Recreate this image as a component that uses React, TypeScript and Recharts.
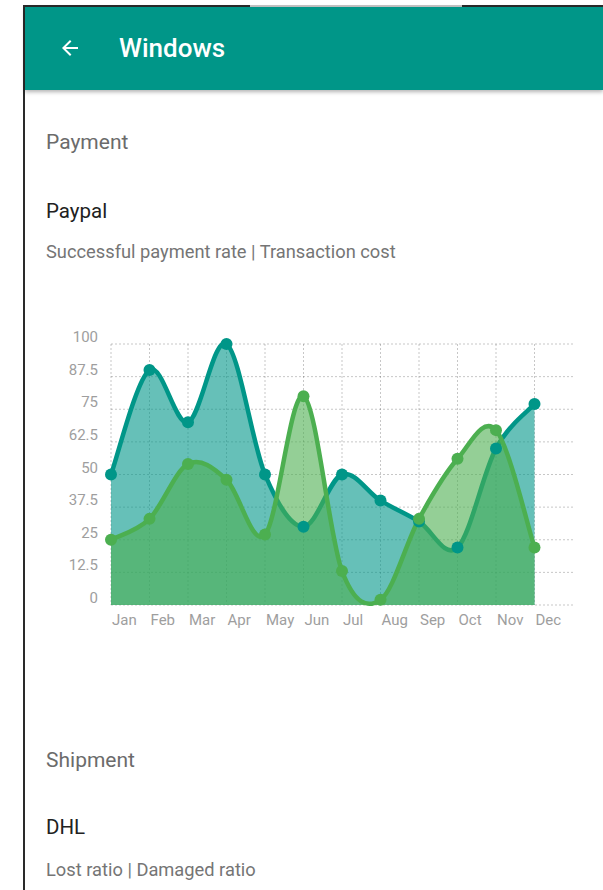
import React from 'react';
import { AreaChart, Area, XAxis, YAxis, CartesianGrid } from 'recharts';

const months = ['Jan', 'Feb', 'Mar', 'Apr', 'May', 'Jun', 'Jul', 'Aug', 'Sep', 'Oct', 'Nov', 'Dec'];
const successRate = [50, 90, 70, 100, 50, 30, 50, 40, 32, 22, 60, 77];
const transactionCost = [25, 33, 54, 48, 27, 80, 13, 2, 33, 56, 67, 22];
const yTicks = [0, 12.5, 25, 37.5, 50, 62.5, 75, 87.5, 100];
const xTicks = months.map((_, i) => i);

const TEAL = '#009688';
const GREEN = '#4caf50';
const FONT = 'Roboto, "Noto Sans", sans-serif';

const data = months.map((m, i) => ({
  x: i,
  month: m,
  success: successRate[i],
  cost: transactionCost[i],
}));

// cardinal spline (catmull-rom, tension 1), like the chartist default smoothing
function cardinal(context: any) {
  let pts: number[][] = [];
  let line = NaN;
  return {
    areaStart() { line = 0; },
    areaEnd() { line = NaN; },
    lineStart() { pts = []; },
    point(x: number, y: number) { pts.push([+x, +y]); },
    lineEnd() {
      if (pts.length) {
        if (line) context.lineTo(pts[0][0], pts[0][1]);
        else context.moveTo(pts[0][0], pts[0][1]);
        for (let i = 0; i < pts.length - 1; i++) {
          const p0 = pts[i - 1] || pts[i];
          const p1 = pts[i];
          const p2 = pts[i + 1];
          const p3 = pts[i + 2] || p2;
          context.bezierCurveTo(
            p1[0] + (p2[0] - p0[0]) / 6,
            p1[1] + (p2[1] - p0[1]) / 6,
            p2[0] - (p3[0] - p1[0]) / 6,
            p2[1] - (p3[1] - p1[1]) / 6,
            p2[0],
            p2[1]
          );
        }
      }
      if (line === 1 || (line !== 0 && pts.length === 1)) context.closePath();
      line = 1 - line;
    },
  };
}

const XTick = (props: any) => {
  const { x, y, payload } = props;
  return (
    <text x={x + 1} y={y + 15} textAnchor="start" dominantBaseline="central" fill="#9e9e9e" fontSize={15} fontFamily={FONT}>
      {months[payload.value]}
    </text>
  );
};

const YTick = (props: any) => {
  const { x, y, payload } = props;
  return (
    <text x={x - 13} y={y - 7} textAnchor="end" dominantBaseline="central" fill="#9e9e9e" fontSize={15} fontFamily={FONT}>
      {payload.value}
    </text>
  );
};

const abs = (left: number, top: number, extra: React.CSSProperties = {}): React.CSSProperties => ({
  position: 'absolute',
  left,
  top,
  ...extra,
});

function Label({ text, top, size, color, weight = 400 }: { text: string; top: number; size: number; color: string; weight?: number }) {
  return (
    <div style={abs(46, top - 15, { height: 30, lineHeight: '30px', fontSize: size, color, fontWeight: weight, fontFamily: FONT, whiteSpace: 'nowrap' })}>
      {text}
    </div>
  );
}

export default function App() {
  return (
    <div style={{ position: 'absolute', left: 0, top: 0, width: 603, height: 890, background: '#fff', overflow: 'hidden', fontFamily: FONT }}>
      {/* window frame */}
      <div style={abs(23, 5, { width: 600, height: 900, borderTop: '2px solid #2a2a2a', borderLeft: '2px solid #2a2a2a' })} />
      <div style={abs(250, 5, { width: 212, height: 2, background: '#c4c4c4' })} />

      {/* app bar */}
      <div style={abs(25, 7, { width: 578, height: 83, background: TEAL, boxShadow: '0 2px 4px rgba(0,0,0,0.3)' })}>
        <svg width={24} height={24} viewBox="0 0 24 24" style={abs(33, 29)}>
          <path d="M20 11H7.83l5.59-5.59L12 4l-8 8 8 8 1.41-1.41L7.83 13H20v-2z" fill="#fff" />
        </svg>
        <div style={abs(94, 26, { height: 30, lineHeight: '30px', fontSize: 26, fontWeight: 500, color: '#fff' })}>Windows</div>
      </div>

      <Label text="Payment" top={142} size={21} color="#6b6b6b" />
      <Label text="Paypal" top={211} size={20.5} color="#212121" />
      <Label text="Successful payment rate | Transaction cost" top={252} size={18.3} color="#757575" />

      <div style={abs(40, 320)}>
        <AreaChart width={560} height={320} data={data} margin={{ top: 24, right: 27, left: 0, bottom: 5 }}>
          <CartesianGrid stroke="rgba(0,0,0,0.22)" strokeDasharray="2 2" verticalValues={xTicks} horizontalValues={yTicks} />
          <XAxis
            dataKey="x"
            type="number"
            domain={[0, 12]}
            ticks={xTicks}
            interval={0}
            axisLine={false}
            tickLine={false}
            tickSize={0}
            tickMargin={0}
            height={30}
            tick={<XTick />}
          />
          <YAxis
            type="number"
            domain={[0, 100]}
            ticks={yTicks}
            interval={0}
            axisLine={false}
            tickLine={false}
            tickSize={0}
            tickMargin={0}
            width={71}
            tick={<YTick />}
          />
          <Area
            dataKey="success"
            type={cardinal as any}
            stroke={TEAL}
            strokeWidth={4.5}
            fill={TEAL}
            fillOpacity={0.6}
            dot={{ r: 6, fill: TEAL, stroke: 'none', fillOpacity: 1 }}
            activeDot={false}
            isAnimationActive={false}
          />
          <Area
            dataKey="cost"
            type={cardinal as any}
            stroke={GREEN}
            strokeWidth={4.5}
            fill={GREEN}
            fillOpacity={0.6}
            dot={{ r: 6, fill: GREEN, stroke: 'none', fillOpacity: 1 }}
            activeDot={false}
            isAnimationActive={false}
          />
        </AreaChart>
      </div>

      <Label text="Shipment" top={760} size={21} color="#6b6b6b" />
      <Label text="DHL" top={827} size={20.5} color="#212121" />
      <Label text="Lost ratio | Damaged ratio" top={870} size={18.3} color="#757575" />
    </div>
  );
}
